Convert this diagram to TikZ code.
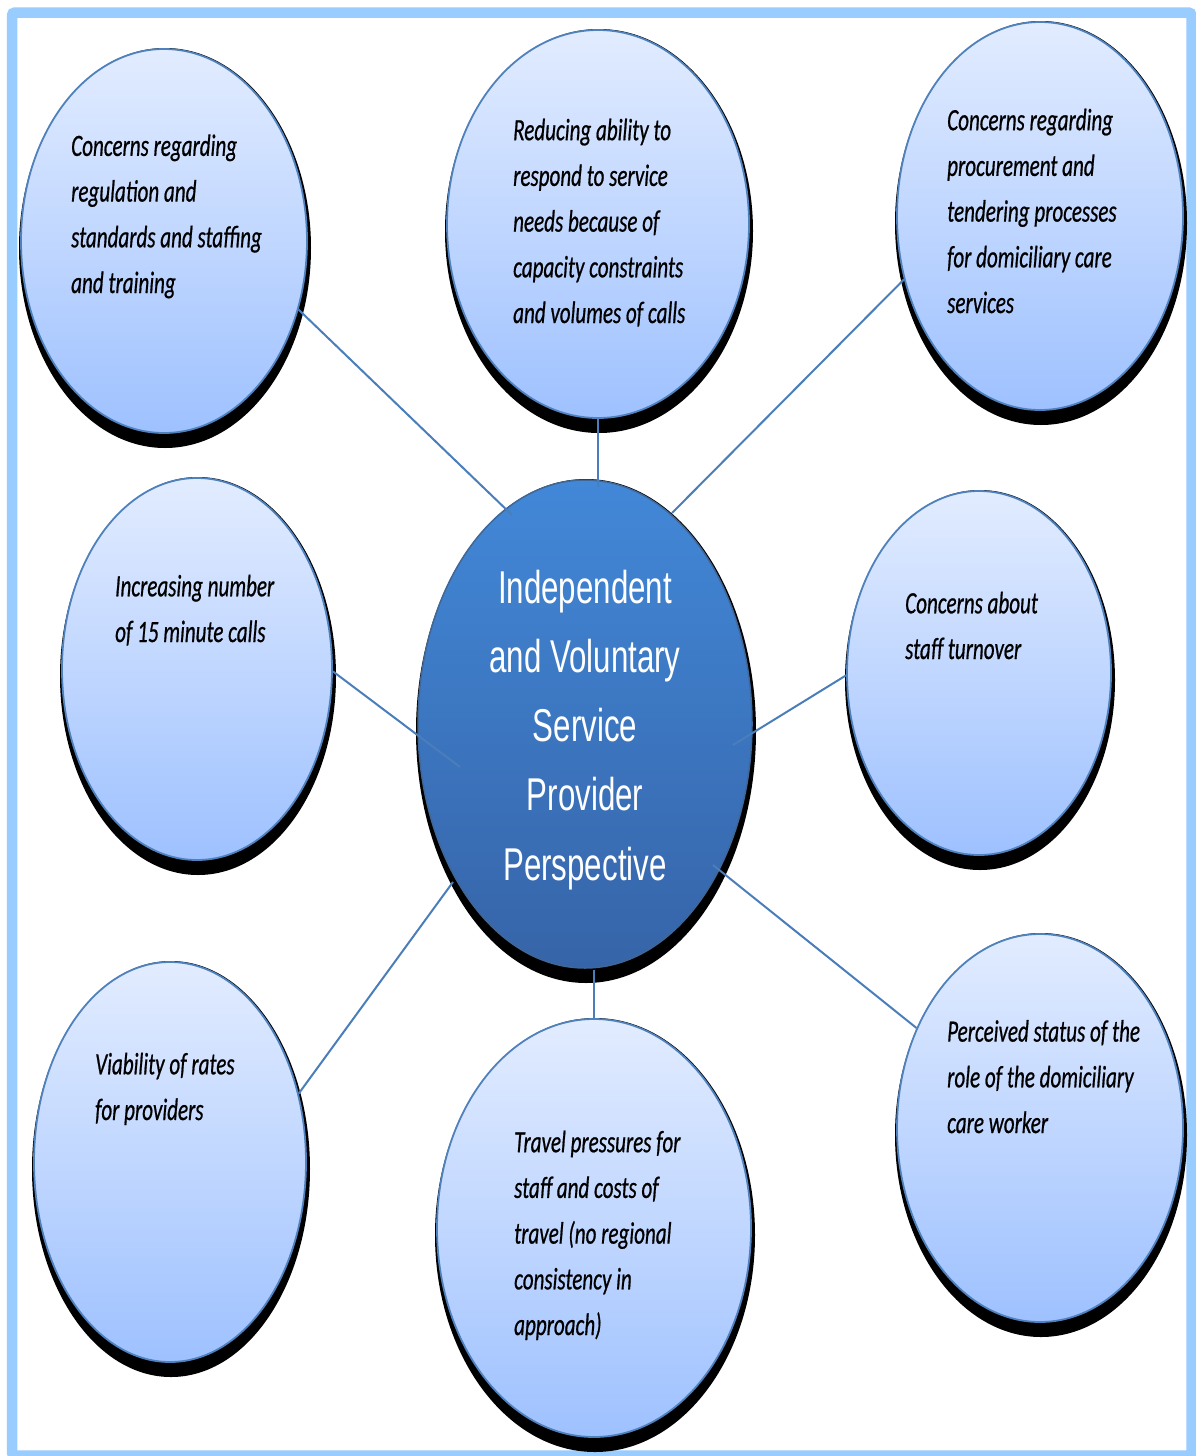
\documentclass[tikz,border=0pt]{standalone}
\usepackage{fontspec}
\newfontfamily\outerfont[FakeStretch=0.68,FakeBold=0.6]{Carlito}
\newfontfamily\centerfont[FakeStretch=0.68]{Liberation Sans}
\usetikzlibrary{shapes.geometric}
\definecolor{framecol}{RGB}{153,204,255}
\definecolor{bubtop}{RGB}{226,236,255}
\definecolor{bubbot}{RGB}{158,193,255}
\definecolor{rimcol}{RGB}{79,129,189}
\definecolor{linecol}{RGB}{74,126,187}
\definecolor{ctop}{RGB}{66,136,216}
\definecolor{cbot}{RGB}{54,100,168}
\newcommand\mkbubble[6]{%
  \node[shadowell, minimum width=#4pt+6pt, minimum height=#5pt+16pt] (#1s) at (#2+1,#3+7) {};
  \node[#6, minimum width=#4pt, minimum height=#5pt] (#1) at (#2,#3) {};}
\begin{document}
\begin{tikzpicture}[x=1pt,y=-1pt,
  bubble/.style={ellipse, inner sep=0pt, draw=rimcol, line width=1.8pt, top color=bubtop, bottom color=bubbot},
  centre/.style={ellipse, inner sep=0pt, draw=rimcol!80!black, line width=1.5pt, top color=ctop, bottom color=cbot},
  shadowell/.style={ellipse, inner sep=0pt, fill=black},
  lbl/.style={anchor=base west, align=left, inner sep=0pt, font=\outerfont\itshape\fontsize{31}{45.7}\selectfont},
  ctext/.style={anchor=base, align=center, inner sep=0pt, text=white, font=\centerfont\fontsize{46}{69.2}\selectfont},
  conn/.style={draw=linecol, line width=2pt}]
\useasboundingbox (0,0) rectangle (1195,1456);
\fill[white] (0,0) rectangle (1195,1456);
\draw[framecol, line width=10.5pt, rounded corners=3pt] (12,12.5) rectangle (1191.5,1455.5);

\mkbubble{tl}{164}{241}{286}{384}{bubble}
\mkbubble{tm}{598}{224}{302}{388}{bubble}
\mkbubble{tr}{1040}{216}{286}{388}{bubble}
\mkbubble{ml}{197}{669}{270}{382}{bubble}
\mkbubble{mr}{979}{673}{264}{364}{bubble}
\mkbubble{bl}{170}{1162}{272}{400}{bubble}
\mkbubble{bm}{594}{1228}{314}{418}{bubble}
\mkbubble{br}{1040}{1128}{286}{388}{bubble}
\mkbubble{ctr}{585}{724}{334}{488}{centre}

\coordinate (ctl) at (512,515);
\coordinate (ctm) at (598,487);
\coordinate (ctr2) at (672,513);
\coordinate (cml) at (460,767);
\coordinate (cmr) at (733,745);
\coordinate (cbl) at (453,882);
\coordinate (cbm) at (594,970);
\coordinate (cbr) at (713,865);

\draw[conn] (tl.-27.7) -- (ctl);
\draw[conn, line width=1.2pt] (tm.-90) -- (ctm);
\draw[conn] (tr.-155.8) -- (ctr2);
\draw[conn] (ml.-1.3) -- (cml);
\draw[conn] (mr.181) -- (cmr);
\draw[conn] (bl.28.7) -- (cbl);
\draw[conn, line width=1.2pt] (bm.90) -- (cbm);
\draw[conn] (br.141) -- (cbr);

% anchors are at the baseline of the last line of each text
\node[lbl] (tlt) at (71,293) {Concerns regarding\\regulation and\\standards and staffing\\and training};
\node[lbl] (tmt) at (513,323) {Reducing ability to\\respond to service\\needs because of\\capacity constraints\\and volumes of calls};
\node[lbl] (trt) at (947,313) {Concerns regarding\\procurement and\\tendering processes\\for domiciliary care\\services};
\node[lbl] (mlt) at (115,642) {Increasing number\\of 15 minute calls};
\node[lbl] (mrt) at (905,659) {Concerns about\\staff turnover};
\node[lbl] (blt) at (95,1120) {Viability of rates\\for providers};
\node[lbl] (bmt) at (514,1335) {Travel pressures for\\staff and costs of\\travel (no regional\\consistency in\\approach)};
\node[lbl] (brt) at (947,1133) {Perceived status of the\\role of the domiciliary\\care worker};
\node[ctext] (ctrt) at (585,880) {Independent\\and Voluntary\\Service\\Provider\\Perspective};
\end{tikzpicture}
\end{document}
